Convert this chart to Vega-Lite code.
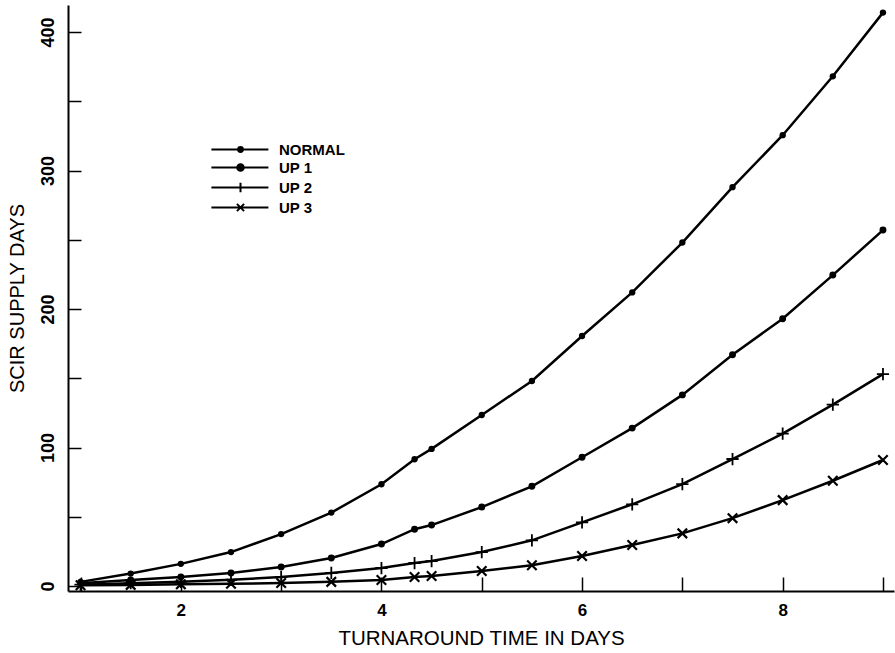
{
  "$schema": "https://vega.github.io/schema/vega-lite/v6.json",
  "width": 826,
  "height": 586,
  "autosize": "none",
  "padding": {"left": 68, "top": 5, "right": 1, "bottom": 62},
  "background": "white",
  "config": {
    "view": {"stroke": null},
    "font": "Liberation Sans",
    "axis": {"grid": false, "domainColor": "black", "domainWidth": 2, "tickColor": "black", "tickWidth": 1.5, "labelColor": "black", "titleColor": "black", "labelFont": "Liberation Sans", "titleFont": "Liberation Sans", "labelFontWeight": "bold", "titleFontWeight": "normal"}
  },
  "data": {
    "values": [
      {"x": 1, "v": 3, "s": "NORMAL"}, {"x": 1.5, "v": 9, "s": "NORMAL"}, {"x": 2, "v": 16, "s": "NORMAL"}, {"x": 2.5, "v": 24.5, "s": "NORMAL"}, {"x": 3, "v": 37.5, "s": "NORMAL"}, {"x": 3.5, "v": 53, "s": "NORMAL"}, {"x": 4, "v": 73.5, "s": "NORMAL"}, {"x": 4.33, "v": 91.5, "s": "NORMAL"}, {"x": 4.5, "v": 99, "s": "NORMAL"}, {"x": 5, "v": 123.5, "s": "NORMAL"}, {"x": 5.5, "v": 148, "s": "NORMAL"}, {"x": 6, "v": 180.5, "s": "NORMAL"}, {"x": 6.5, "v": 212, "s": "NORMAL"}, {"x": 7, "v": 248, "s": "NORMAL"}, {"x": 7.5, "v": 288, "s": "NORMAL"}, {"x": 8, "v": 325.5, "s": "NORMAL"}, {"x": 8.5, "v": 368, "s": "NORMAL"}, {"x": 9, "v": 414, "s": "NORMAL"},
      {"x": 1, "v": 2, "s": "UP 1"}, {"x": 1.5, "v": 4.3, "s": "UP 1"}, {"x": 2, "v": 6.5, "s": "UP 1"}, {"x": 2.5, "v": 9.4, "s": "UP 1"}, {"x": 3, "v": 13.7, "s": "UP 1"}, {"x": 3.5, "v": 20.2, "s": "UP 1"}, {"x": 4, "v": 30.3, "s": "UP 1"}, {"x": 4.33, "v": 41, "s": "UP 1"}, {"x": 4.5, "v": 44, "s": "UP 1"}, {"x": 5, "v": 57, "s": "UP 1"}, {"x": 5.5, "v": 72, "s": "UP 1"}, {"x": 6, "v": 93, "s": "UP 1"}, {"x": 6.5, "v": 114, "s": "UP 1"}, {"x": 7, "v": 138, "s": "UP 1"}, {"x": 7.5, "v": 167, "s": "UP 1"}, {"x": 8, "v": 193, "s": "UP 1"}, {"x": 8.5, "v": 224.5, "s": "UP 1"}, {"x": 9, "v": 257, "s": "UP 1"},
      {"x": 1, "v": 1, "s": "UP 2"}, {"x": 1.5, "v": 2, "s": "UP 2"}, {"x": 2, "v": 3, "s": "UP 2"}, {"x": 2.5, "v": 4.5, "s": "UP 2"}, {"x": 3, "v": 6.5, "s": "UP 2"}, {"x": 3.5, "v": 9.4, "s": "UP 2"}, {"x": 4, "v": 13, "s": "UP 2"}, {"x": 4.33, "v": 16.6, "s": "UP 2"}, {"x": 4.5, "v": 18, "s": "UP 2"}, {"x": 5, "v": 24.5, "s": "UP 2"}, {"x": 5.5, "v": 33, "s": "UP 2"}, {"x": 6, "v": 46, "s": "UP 2"}, {"x": 6.5, "v": 59, "s": "UP 2"}, {"x": 7, "v": 73.6, "s": "UP 2"}, {"x": 7.5, "v": 91.7, "s": "UP 2"}, {"x": 8, "v": 110, "s": "UP 2"}, {"x": 8.5, "v": 131, "s": "UP 2"}, {"x": 9, "v": 153, "s": "UP 2"},
      {"x": 1, "v": 0.5, "s": "UP 3"}, {"x": 1.5, "v": 0.8, "s": "UP 3"}, {"x": 2, "v": 1.2, "s": "UP 3"}, {"x": 2.5, "v": 1.6, "s": "UP 3"}, {"x": 3, "v": 2.2, "s": "UP 3"}, {"x": 3.5, "v": 3, "s": "UP 3"}, {"x": 4, "v": 4.3, "s": "UP 3"}, {"x": 4.33, "v": 6.5, "s": "UP 3"}, {"x": 4.5, "v": 7.2, "s": "UP 3"}, {"x": 5, "v": 10.8, "s": "UP 3"}, {"x": 5.5, "v": 15, "s": "UP 3"}, {"x": 6, "v": 21.7, "s": "UP 3"}, {"x": 6.5, "v": 29.6, "s": "UP 3"}, {"x": 7, "v": 38, "s": "UP 3"}, {"x": 7.5, "v": 49, "s": "UP 3"}, {"x": 8, "v": 62, "s": "UP 3"}, {"x": 8.5, "v": 76, "s": "UP 3"}, {"x": 9, "v": 91, "s": "UP 3"}
    ]
  },
  "encoding": {
    "x": {"field": "x", "type": "quantitative", "scale": {"domain": [0.875, 9.11], "nice": false, "zero": false},
      "axis": {"title": "TURNAROUND TIME IN DAYS", "values": [1, 2, 3, 4, 5, 6, 7, 8, 9], "labelExpr": "datum.value % 2 == 0 ? datum.label : ''", "tickSize": -14, "labelPadding": 25, "labelFontSize": 17, "titleFontSize": 20.5, "titlePadding": 10, "labelFlush": false}},
    "y": {"field": "v", "type": "quantitative", "scale": {"domain": [-3.6, 419.5], "nice": false, "zero": false},
      "axis": {"title": "SCIR SUPPLY DAYS", "values": [0, 50, 100, 150, 200, 250, 300, 350, 400], "labelExpr": "datum.value % 100 == 0 ? datum.label : ''", "tickSize": -13, "labelPadding": 24, "labelAngle": -90, "labelAlign": "center", "labelBaseline": "bottom", "labelFontSize": 18, "titleFontSize": 20, "titlePadding": 12, "labelFlush": false}}
  },
  "layer": [
    {
      "mark": {"type": "line", "strokeWidth": 2.5, "interpolate": "linear"},
      "encoding": {
        "color": {"field": "s", "type": "nominal", "scale": {"domain": ["NORMAL", "UP 1", "UP 2", "UP 3"], "range": ["black", "black", "black", "black"]},
          "legend": {"title": null, "orient": "none", "legendX": 165, "legendY": 137, "symbolSize": 36, "labelOffset": 31, "labelFontSize": 15, "labelFontWeight": "bold", "labelColor": "black", "labelFont": "Liberation Sans", "rowPadding": 2, "padding": 0,
            "encode": {"symbols": {"update": {
              "shape": {"signal": "datum.value === 'NORMAL' ? 'M -9.7 0 L 9.3 0 M -0.8 0 A 0.8 0.8 0 1 0 0.8 0 A 0.8 0.8 0 1 0 -0.8 0' : datum.value === 'UP 1' ? 'M -9.7 0 L 9.3 0 M -1.1 0 A 1.1 1.1 0 1 0 1.1 0 A 1.1 1.1 0 1 0 -1.1 0' : datum.value === 'UP 2' ? 'M -9.7 0 L 9.3 0 M 0 -1.6 L 0 1.6' : 'M -9.7 0 L 9.3 0 M -1.2 -1.2 L 1.2 1.2 M -1.2 1.2 L 1.2 -1.2'"},
              "fill": {"value": "black"}, "stroke": {"value": "black"}, "strokeWidth": {"value": 2}, "opacity": {"value": 1}, "fillOpacity": {"value": 1}, "strokeOpacity": {"value": 1}
            }}}
          }}
      }
    },
    {
      "transform": [{"filter": "datum.s === 'NORMAL'"}],
      "mark": {"type": "point", "shape": "circle", "filled": true, "color": "black", "opacity": 1, "size": 40},
      "encoding": {}
    },
    {
      "transform": [{"filter": "datum.s === 'UP 1'"}],
      "mark": {"type": "point", "shape": "circle", "filled": true, "color": "black", "opacity": 1, "size": 48},
      "encoding": {}
    },
    {
      "transform": [{"filter": "datum.s === 'UP 2'"}],
      "mark": {"type": "point", "shape": "M -1 0 L 1 0 M 0 -1 L 0 1", "filled": false, "color": "black", "opacity": 1, "size": 150, "strokeWidth": 1.8},
      "encoding": {}
    },
    {
      "transform": [{"filter": "datum.s === 'UP 3'"}],
      "mark": {"type": "point", "shape": "M -1 -1 L 1 1 M -1 1 L 1 -1", "filled": false, "color": "black", "opacity": 1, "size": 90, "strokeWidth": 2.2},
      "encoding": {}
    }
  ]
}
